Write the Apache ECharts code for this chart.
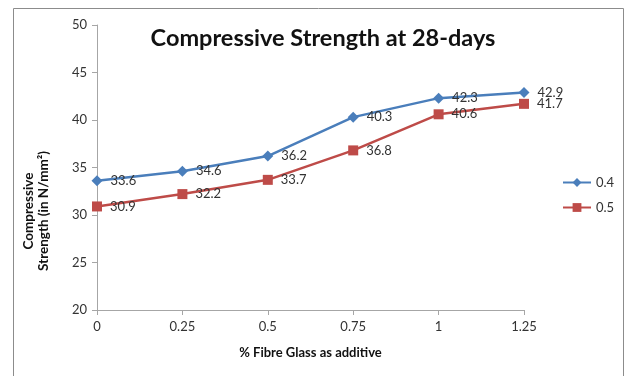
<!DOCTYPE html>
<html>
<head>
<meta charset="utf-8">
<script src="https://cdn.jsdelivr.net/npm/echarts@6/dist/echarts.min.js"></script>
<style>
  html, body { margin: 0; padding: 0; background: #fff; }
  #chart { width: 631px; height: 376px; }
</style>
</head>
<body>
<div id="chart"></div>
<script>
// % fibre glass added to the mix
const fibreGlass = ['0', '0.25', '0.5', '0.75', '1', '1.25'];
// 28-day compressive strength (N/mm²) for w/c ratio 0.4 and 0.5
const ratio04 = [33.6, 34.6, 36.2, 40.3, 42.3, 42.9];
const ratio05 = [30.9, 32.2, 33.7, 36.8, 40.6, 41.7];
const seriesNames = ['0.4', '0.5'];
const yTicks = { min: 20, max: 50, interval: 5 };

const FONT = 'Lato, "Open Sans", sans-serif';
const chart = echarts.init(document.getElementById('chart'), null, { renderer: 'canvas' });

const labelStyle = {
  show: true,
  position: 'right',
  distance: 8,
  color: '#333',
  fontFamily: FONT,
  fontSize: 13
};

chart.setOption({
  animation: false,
  backgroundColor: '#fff',
  title: {
    text: 'Compressive Strength at 28-days',
    left: 318,
    textAlign: 'center',
    top: 21,
    textStyle: { fontFamily: FONT, fontWeight: 'bold', fontSize: 23.5, color: '#111' }
  },
  graphic: [
    {
      type: 'rect',
      shape: { x: 13.5, y: 8.5, width: 610, height: 380 },
      style: { fill: 'none', stroke: '#8c8c8c', lineWidth: 1 },
      z: -1
    },
    {
      type: 'text',
      x: 36,
      y: 211,
      rotation: Math.PI / 2,
      style: {
        text: 'Compressive\nStrength (in N/mm²)',
        fontFamily: FONT,
        fontWeight: 'bold',
        fontSize: 13.5,
        lineHeight: 15,
        fill: '#111',
        align: 'center',
        verticalAlign: 'middle'
      }
    }
  ],
  legend: {
    orient: 'vertical',
    left: 557,
    top: 171,
    itemWidth: 28,
    itemHeight: 11,
    itemGap: 12,
    textStyle: { fontFamily: FONT, fontSize: 13, color: '#333' },
    data: seriesNames
  },
  grid: { left: 97, right: 107, top: 25, bottom: 66 },
  xAxis: {
    type: 'category',
    data: fibreGlass,
    boundaryGap: false,
    name: '% Fibre Glass as additive',
    nameLocation: 'middle',
    nameGap: 36,
    nameTextStyle: { fontFamily: FONT, fontWeight: 'bold', fontSize: 13, color: '#111' },
    axisLine: { lineStyle: { color: '#a6a6a6' } },
    axisTick: { show: true, alignWithLabel: true, length: 5, lineStyle: { color: '#a6a6a6' } },
    axisLabel: { fontFamily: FONT, fontSize: 13, color: '#333', margin: 10 },
    splitLine: { show: false }
  },
  yAxis: {
    type: 'value',
    min: yTicks.min,
    max: yTicks.max,
    interval: yTicks.interval,
    axisLine: { show: true, lineStyle: { color: '#a6a6a6' } },
    axisTick: { show: true, length: 5, lineStyle: { color: '#a6a6a6' } },
    axisLabel: { fontFamily: FONT, fontSize: 13, color: '#333', margin: 10 },
    splitLine: { show: false }
  },
  series: [
    {
      name: seriesNames[0],
      type: 'line',
      data: ratio04,
      symbol: 'diamond',
      symbolSize: 11,
      color: '#4a7ebb',
      lineStyle: { width: 2.5, color: '#4a7ebb' },
      itemStyle: { color: '#4a7ebb' },
      label: labelStyle
    },
    {
      name: seriesNames[1],
      type: 'line',
      data: ratio05,
      symbol: 'rect',
      symbolSize: 10,
      color: '#be4b48',
      lineStyle: { width: 2.5, color: '#be4b48' },
      itemStyle: { color: '#be4b48' },
      label: labelStyle
    }
  ]
});
</script>
</body>
</html>
